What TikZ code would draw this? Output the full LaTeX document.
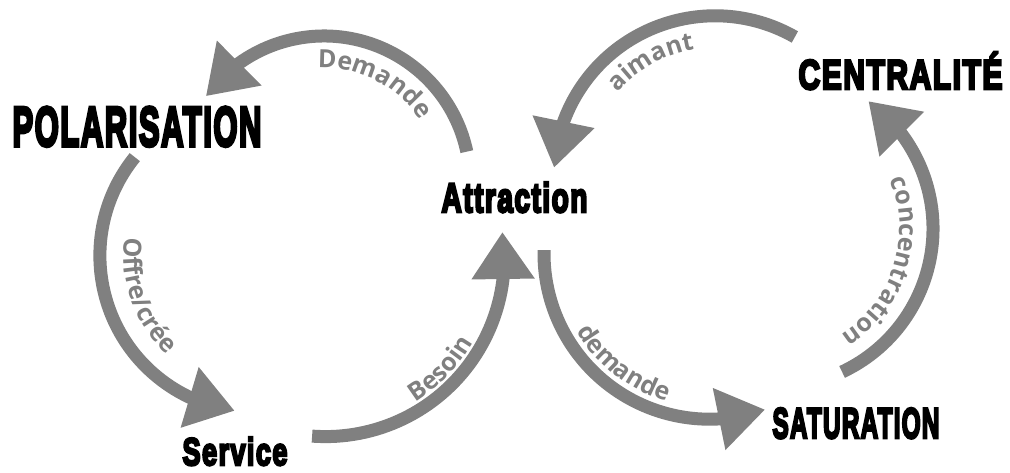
\documentclass[tikz,border=0pt]{standalone}
\usepackage{fontspec}
\usetikzlibrary{arrows.meta,bending,decorations.text}
\newfontfamily\heavyfont{Liberation Sans Bold}[FakeBold=6.5,LetterSpace=5]
\newfontfamily\lblfont{Open Sans}
\definecolor{arcgray}{RGB}{128,128,128}
\definecolor{lblgray}{RGB}{128,128,128}
\newcommand\bigword[3]{\resizebox{#1pt}{#2pt}{\heavyfont\fontsize{40}{40}\selectfont #3}}
\newcommand\lblfmt{\lblfont\bfseries\fontsize{25}{25}\selectfont}
\begin{document}
\begin{tikzpicture}[x=1pt,y=1pt,
  flow/.style={draw=arcgray, line width=13pt, -{Triangle[length=47pt,width=60pt,flex]}},
  word/.style={inner sep=0pt, outer sep=0pt, anchor=south west, text=black},
  lbl/.style={decorate, decoration={text along path, text align=center, text color=lblgray, text={|\lblfmt|#1}}}
]
\fill[white] (0,0) rectangle (1010,-472);
\useasboundingbox (0,0) rectangle (1010,-472);

% words
\node[word] (pol) at (12.5,-146.5) {\bigword{249}{39}{POLARISATION}};
\node[word] (att) at (441.5,-212.5) {\bigword{146}{30}{Attraction}};
\node[word] (cen) at (798.5,-89.5) {\bigword{204}{37}{CENTRALITÉ}};
\node[word] (ser) at (182.5,-465.5) {\bigword{105}{28}{Service}};
\node[word] (sat) at (772.5,-438.5) {\bigword{167}{30}{SATURATION}};

% arc centres
\coordinate (c1) at (324,-182);
\coordinate (c2) at (256.5,-255.7);
\coordinate (c3) at (325.5,-257.8);
\coordinate (c4) at (715,-177);
\coordinate (c5) at (709.6,-253.6);
\coordinate (c6) at (774.7,-228.7);

% arrows
\draw[flow] ([shift={(12:146pt)}]c1) arc[start angle=12,end angle=144,radius=146pt];
\draw[flow] ([shift={(141:156.6pt)}]c2) arc[start angle=141,end angle=262,radius=156.6pt];
\draw[flow] ([shift={(265.7:178.8pt)}]c3) arc[start angle=265.7,end angle=368.3,radius=178.8pt];
\draw[flow] ([shift={(60.3:161.2pt)}]c4) arc[start angle=60.3,end angle=176.7,radius=161.2pt];
\draw[flow] ([shift={(178.8:165.6pt)}]c5) arc[start angle=178.8,end angle=289.6,radius=165.6pt];
\draw[flow] ([shift={(-64.8:158.3pt)}]c6) arc[start angle=-64.8,end angle=53.7,radius=158.3pt];

% labels
\path[lbl=Demande] ([shift={(100:114pt)}]c1) arc[start angle=100,end angle=26,radius=114pt];
\path[lbl=Offre/crée] ([shift={(160:133pt)}]c2) arc[start angle=160,end angle=240,radius=133pt];
\path[lbl=Besoin] ([shift={(-74:170pt)}]c3) arc[start angle=-74,end angle=-14,radius=170pt];
\path[lbl=aimant] ([shift={(150:129pt)}]c4) arc[start angle=150,end angle=88,radius=129pt];
\path[lbl=demande] ([shift={(200:154pt)}]c5) arc[start angle=200,end angle=264,radius=154pt];
\path[lbl=concentration] ([shift={(45:125pt)}]c6) arc[start angle=45,end angle=-80,radius=125pt];
\end{tikzpicture}
\end{document}
